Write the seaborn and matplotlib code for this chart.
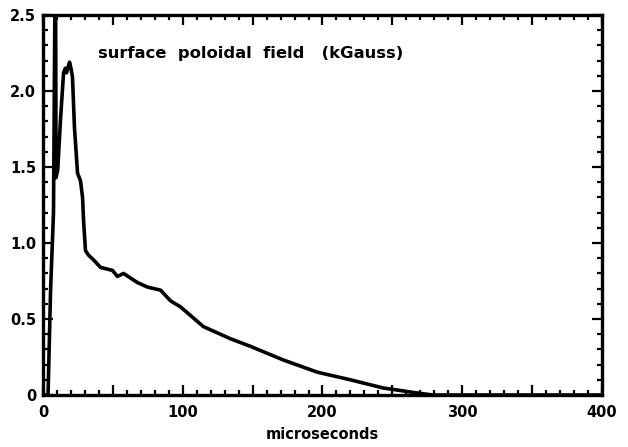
import numpy as np
import pandas as pd
import matplotlib
matplotlib.use("Agg")
import matplotlib.pyplot as plt
import seaborn as sns
from matplotlib.ticker import MultipleLocator, FixedLocator, FuncFormatter

# Surface poloidal field trace (time in microseconds, field in kGauss)
time_us = [0.0, 3.6, 5.4, 7.5, 8.6, 9.0, 9.3, 10.5, 12.5, 14.7, 16.0, 16.8, 18.0,
           19.0, 20.0, 21.1, 22.5, 24.7, 26.8, 28.3, 29.0, 30.4, 32.6, 36.1,
           41.1, 49.7, 53.3, 57.6, 67.6, 74.8, 84.1, 91.2, 98.4, 114.8,
           134.2, 148.5, 172.1, 196.4, 220.0, 243.6, 268.0, 279.0, 300.0,
           350.0, 400.0]
field_kg = [0.0, 0.0, 0.69, 1.20, 2.70, 2.70, 1.43, 1.48, 1.81, 2.12, 2.15, 2.12, 2.16,
            2.19, 2.15, 2.09, 1.76, 1.46, 1.41, 1.30, 1.15, 0.95, 0.92, 0.89,
            0.84, 0.82, 0.78, 0.80, 0.74, 0.71, 0.69, 0.62, 0.58, 0.45,
            0.37, 0.32, 0.23, 0.15, 0.10, 0.046, 0.013, 0.0, 0.0,
            0.0, 0.0]

x_ticks = [0, 100, 200, 300, 400]
y_ticks = [0, 0.5, 1.0, 1.5, 2.0, 2.5]
y_tick_labels = ["0", "0.5", "1.0", "1.5", "2.0", "2.5"]

df = pd.DataFrame({"t": time_us, "B": field_kg})

sns.set_style("ticks")
plt.rcParams["font.family"] = ["DejaVu Sans"]
plt.rcParams["font.weight"] = "bold"
plt.rcParams["text.color"] = "black"
plt.rcParams["axes.labelcolor"] = "black"

fig = plt.figure(figsize=(6.28, 4.47), dpi=100)
ax = fig.add_axes([0.0685, 0.1163, 0.890, 0.850])

sns.lineplot(data=df, x="t", y="B", ax=ax, color="black", linewidth=2.6,
             sort=False, estimator=None)

ax.set_xlim(0, 400)
ax.set_ylim(0, 2.5)

ax.xaxis.set_major_locator(FixedLocator([0, 50, 100, 150, 200, 250, 300, 350, 400]))
ax.xaxis.set_major_formatter(FuncFormatter(lambda v, p: f"{int(v)}" if v in x_ticks else ""))
ax.xaxis.set_minor_locator(MultipleLocator(10))
ax.yaxis.set_major_locator(FixedLocator(y_ticks))
ax.yaxis.set_major_formatter(FuncFormatter(
    lambda v, p: y_tick_labels[y_ticks.index(round(v, 1))] if round(v, 1) in y_ticks else ""))
ax.yaxis.set_minor_locator(MultipleLocator(0.1))

ax.tick_params(which="both", direction="in", top=True, right=True,
               color="black", width=1.6, labelsize=10.5, labelcolor="black")
ax.tick_params(which="major", length=7)
ax.tick_params(axis="x", which="major", pad=7)
ax.tick_params(axis="y", which="major", pad=5)
ax.tick_params(which="minor", length=3.5)
for lbl in ax.get_xticklabels() + ax.get_yticklabels():
    lbl.set_fontweight("bold")

for s in ax.spines.values():
    s.set_linewidth(2.4)
    s.set_color("black")

ax.set_xlabel("microseconds", fontsize=10.5, fontweight="bold", labelpad=5, color="black")
ax.set_ylabel("")
ax.text(0.098, 0.90, "surface  poloidal  field   (kGauss)", transform=ax.transAxes,
        fontsize=11.8, fontweight="bold", ha="left", va="center", color="black")

fig.savefig("out.png", dpi=100)
